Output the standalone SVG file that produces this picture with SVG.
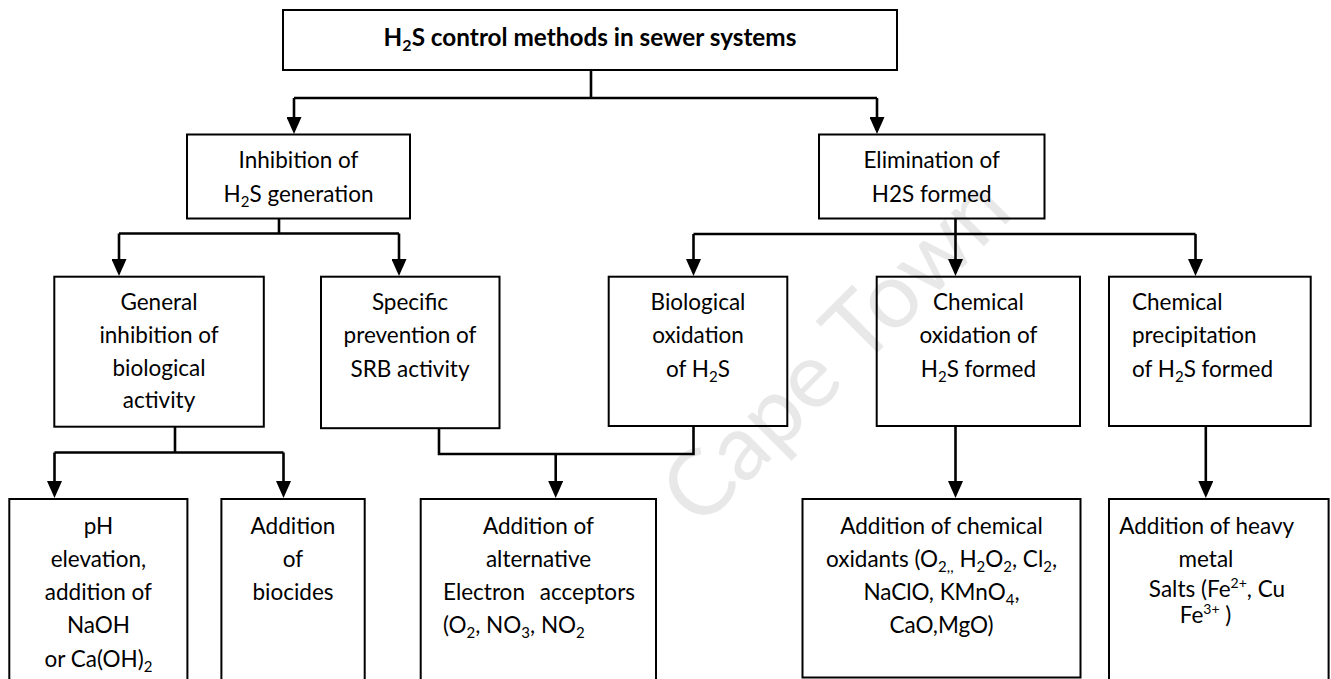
<svg xmlns="http://www.w3.org/2000/svg" width="1331" height="679" viewBox="0 0 1331 679">
<style>
.box{fill:none;stroke:#000;stroke-width:2}
.t{font-family:Lato,'Open Sans',sans-serif;font-size:22.5px;fill:#000}
.c{text-anchor:middle}
.e{text-anchor:end}
.b{font-weight:bold;font-size:24.3px}
.conn{fill:none;stroke:#000;stroke-width:2.6}
.arr{fill:none;stroke:#000;stroke-width:2.6;marker-end:url(#ah)}
.wm{font-family:Lato,'Open Sans',sans-serif;font-size:92px;fill:#e8e8e8}
</style>
<defs>
<marker id="ah" markerUnits="userSpaceOnUse" viewBox="0 0 17 15" refX="13" refY="7.5" markerWidth="17" markerHeight="15" orient="auto"><path d="M0,0L17,7.5L0,15z" fill="#000"/></marker>
</defs>
<rect width="1331" height="679" fill="#fff"/>
<text class="wm" transform="translate(700,530) rotate(-45)">Cape Town</text>

<g id="connectors">
<path class="conn" d="M591,70V98M294,98H877"/>
<path class="arr" d="M294,98V130"/>
<path class="arr" d="M877,98V130"/>
<path class="conn" d="M279,218V233.5M119,233.5H399"/>
<path class="arr" d="M119,233.5V272"/>
<path class="arr" d="M399,233.5V272"/>
<path class="conn" d="M955.5,218V234M693.5,234H1195.5"/>
<path class="arr" d="M693.5,234V272"/>
<path class="arr" d="M955.5,234V272"/>
<path class="arr" d="M1195.5,234V272"/>
<path class="conn" d="M175,427V452.5M54.5,452.5H283.5"/>
<path class="arr" d="M54.5,452.5V494"/>
<path class="arr" d="M283.5,452.5V494"/>
<path class="conn" d="M439,428V454H693.5V426"/>
<path class="arr" d="M555.7,454V494"/>
<path class="arr" d="M955.5,426V494"/>
<path class="arr" d="M1205.8,426V494"/>
</g>

<g id="title">
<rect class="box" x="283" y="10" width="614" height="60"/>
<text class="t b c" x="590" y="46">H<tspan dy="5" font-size="16">2</tspan><tspan dy="-5">S control methods in sewer systems</tspan></text>
</g>

<g id="inhibition">
<rect class="box" x="187" y="134.5" width="223" height="84"/>
<text class="t c" x="298.5" y="168">Inhibition of</text>
<text class="t c" x="298.5" y="201.5">H<tspan dy="5" font-size="15">2</tspan><tspan dy="-5">S generation</tspan></text>
</g>

<g id="elimination">
<rect class="box" x="819" y="134.5" width="225.5" height="84"/>
<text class="t c" x="931.7" y="168">Elimination of</text>
<text class="t c" x="931.7" y="201.5">H2S formed</text>
</g>

<g id="general">
<rect class="box" x="54.3" y="276.7" width="209.5" height="150"/>
<text class="t c" x="159" y="310">General</text>
<text class="t c" x="159" y="343">inhibition of</text>
<text class="t c" x="159" y="375.5">biological</text>
<text class="t c" x="159" y="407.5">activity</text>
</g>

<g id="specific">
<rect class="box" x="321" y="276.7" width="178.5" height="151.5"/>
<text class="t c" x="410" y="310">Specific</text>
<text class="t c" x="410" y="343">prevention of</text>
<text class="t c" x="410" y="376.5">SRB activity</text>
</g>

<g id="biological">
<rect class="box" x="608.7" y="276.7" width="178.6" height="149.3"/>
<text class="t c" x="698" y="310">Biological</text>
<text class="t c" x="698" y="343">oxidation</text>
<text class="t c" x="698" y="377">of H<tspan dy="5" font-size="15">2</tspan><tspan dy="-5">S</tspan></text>
</g>

<g id="chem-oxidation">
<rect class="box" x="876.7" y="276.7" width="203.3" height="149.3"/>
<text class="t c" x="978.4" y="310">Chemical</text>
<text class="t c" x="978.4" y="343">oxidation of</text>
<text class="t c" x="978.4" y="377">H<tspan dy="5" font-size="15">2</tspan><tspan dy="-5">S formed</tspan></text>
</g>

<g id="chem-precipitation">
<rect class="box" x="1109" y="276.7" width="201.7" height="149.3"/>
<text class="t" x="1132" y="310">Chemical</text>
<text class="t" x="1132" y="343">precipitation</text>
<text class="t" x="1132" y="377">of H<tspan dy="5" font-size="15">2</tspan><tspan dy="-5">S formed</tspan></text>
</g>

<g id="ph">
<path class="box" d="M9.3,690V499H187.4V690"/>
<text class="t c" x="98.4" y="534">pH</text>
<text class="t c" x="98.4" y="567">elevation,</text>
<text class="t c" x="98.4" y="600">addition of</text>
<text class="t c" x="98.4" y="633">NaOH</text>
<text class="t c" x="98.4" y="666.5">or Ca(OH)<tspan dy="5" font-size="15">2</tspan></text>
</g>

<g id="biocides">
<path class="box" d="M221.4,690V499H364.7V690"/>
<text class="t c" x="293" y="534">Addition</text>
<text class="t c" x="293" y="567">of</text>
<text class="t c" x="293" y="600">biocides</text>
</g>

<g id="acceptors">
<path class="box" d="M420.7,690V499H656V690"/>
<text class="t c" x="538.5" y="534">Addition of</text>
<text class="t c" x="538.5" y="567">alternative</text>
<text class="t" x="443" y="600">Electron</text>
<text class="t e" x="635" y="600">acceptors</text>
<text class="t" x="443" y="633">(O<tspan dy="5" font-size="15">2</tspan><tspan dy="-5">, NO</tspan><tspan dy="5" font-size="15">3</tspan><tspan dy="-5">, NO</tspan><tspan dy="5" font-size="15">2</tspan></text>
</g>

<g id="oxidants">
<rect class="box" x="802.5" y="499" width="278" height="178.5"/>
<text class="t c" x="941.5" y="534">Addition of chemical</text>
<text class="t c" x="941.5" y="567">oxidants (O<tspan dy="5" font-size="15">2,,</tspan><tspan dy="-5"> H</tspan><tspan dy="5" font-size="15">2</tspan><tspan dy="-5">O</tspan><tspan dy="5" font-size="15">2</tspan><tspan dy="-5">, Cl</tspan><tspan dy="5" font-size="15">2</tspan><tspan dy="-5">,</tspan></text>
<text class="t c" x="941.5" y="600">NaClO, KMnO<tspan dy="5" font-size="15">4</tspan><tspan dy="-5">,</tspan></text>
<text class="t c" x="941.5" y="633">CaO,MgO)</text>
</g>

<g id="heavy-metal">
<path class="box" d="M1109,690V499H1328.6V690"/>
<text class="t c" x="1206.7" y="534">Addition of heavy</text>
<text class="t c" x="1206" y="566.5">metal</text>
<text class="t c" x="1217" y="596.5">Salts (Fe<tspan dy="-9" font-size="14">2+</tspan><tspan dy="9">, Cu</tspan></text>
<text class="t c" x="1205.5" y="623">Fe<tspan dy="-9" font-size="14">3+</tspan><tspan dy="9"> )</tspan></text>
</g>
</svg>
